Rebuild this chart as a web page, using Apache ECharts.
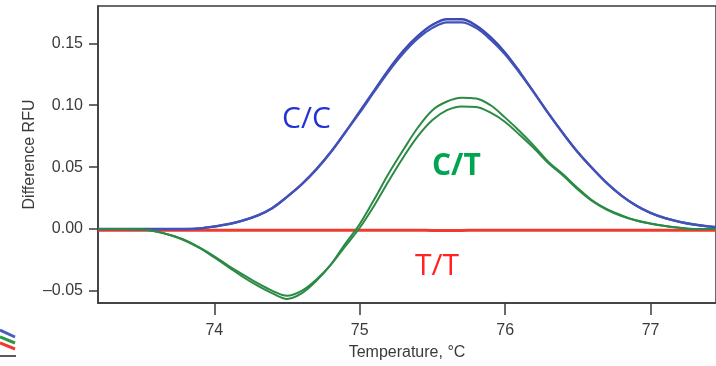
<!DOCTYPE html>
<html>
<head>
<meta charset="utf-8">
<script src="https://cdn.jsdelivr.net/npm/echarts@6/dist/echarts.min.js"></script>
<style>
  html, body { margin: 0; padding: 0; background: #fff; }
  #chart { width: 716px; height: 366px; }
</style>
</head>
<body>
<div id="chart"></div>
<script>
// temperature grid, degrees C
const temps = [
  73.2, 73.3, 73.4, 73.5, 73.6, 73.7, 73.8, 73.9,
  74.0, 74.1, 74.2, 74.3, 74.4, 74.5, 74.6, 74.7, 74.8, 74.9,
  75.0, 75.1, 75.2, 75.3, 75.4, 75.5, 75.6, 75.7, 75.8, 75.9,
  76.0, 76.1, 76.2, 76.3, 76.4, 76.5, 76.6, 76.7, 76.8, 76.9,
  77.0, 77.1, 77.2, 77.3, 77.4, 77.5
];

// C/C homozygote, two replicates
const ccA = [
  0, 0, 0, 0, 0, 0, 0, 0.0005,
  0.002, 0.004, 0.007, 0.011, 0.017, 0.026, 0.036, 0.048, 0.062, 0.078,
  0.095, 0.112, 0.129, 0.144, 0.156, 0.165, 0.1695, 0.1695, 0.1645, 0.155,
  0.1425, 0.127, 0.110, 0.093, 0.077, 0.062, 0.049, 0.037, 0.027, 0.019,
  0.013, 0.0088, 0.0058, 0.0036, 0.002, 0.001
];
const ccB = [
  0, 0, 0, 0, 0, 0, 0, 0.0005,
  0.002, 0.004, 0.007, 0.011, 0.017, 0.026, 0.036, 0.048, 0.062, 0.078,
  0.094, 0.111, 0.1275, 0.142, 0.154, 0.1625, 0.167, 0.167, 0.1625, 0.153,
  0.141, 0.126, 0.110, 0.093, 0.077, 0.062, 0.049, 0.037, 0.027, 0.019,
  0.013, 0.0088, 0.0058, 0.0036, 0.002, 0.001
];

// C/T heterozygote, two replicates
const ctA = [
  0, 0, 0, -0.0005, -0.002, -0.005, -0.0095, -0.0155,
  -0.023, -0.031, -0.039, -0.046, -0.052, -0.0565, -0.052, -0.042, -0.029, -0.012,
  0.004, 0.024, 0.045, 0.064, 0.082, 0.096, 0.103, 0.106, 0.1055, 0.100,
  0.090, 0.079, 0.067, 0.054, 0.044, 0.033, 0.023, 0.016, 0.011, 0.007,
  0.0045, 0.0025, 0.001, 0, 0, 0
];
const ctB = [
  0, 0, 0, -0.0005, -0.002, -0.005, -0.009, -0.015,
  -0.022, -0.030, -0.037, -0.044, -0.050, -0.054, -0.050, -0.041, -0.029, -0.014,
  0.001, 0.019, 0.039, 0.058, 0.075, 0.088, 0.096, 0.099, 0.0985, 0.094,
  0.0865, 0.076, 0.065, 0.053, 0.043, 0.032, 0.0225, 0.0155, 0.0105, 0.0068,
  0.0043, 0.0024, 0.001, 0, 0, 0
];

// T/T homozygote
const tt = [
  -0.001, -0.001, -0.001, -0.001, -0.001, -0.001, -0.001, -0.001,
  -0.001, -0.001, -0.001, -0.001, -0.001, -0.001, -0.001, -0.001, -0.001, -0.001,
  -0.001, -0.001, -0.001, -0.001, -0.001, -0.0012, -0.0012, -0.0012, -0.001, -0.001,
  -0.001, -0.001, -0.001, -0.001, -0.001, -0.001, -0.001, -0.001, -0.001, -0.001,
  -0.001, -0.001, -0.001, -0.001, -0.001, -0.001
];

const xTicks = [74, 75, 76, 77];
const yTicks = [-0.05, 0, 0.05, 0.10, 0.15];

const axisFont = "Liberation Sans";
const axisColor = "#3a3a3a";

function pairs(values) {
  return temps.map((t, i) => [t, values[i]]);
}

function curve(values, color, width, z) {
  return {
    type: "line",
    data: pairs(values),
    smooth: 0.35,
    showSymbol: false,
    z: z,
    lineStyle: { color: color, width: width },
  };
}

function tag(text, x, y, color, weight) {
  return {
    type: "text",
    left: x,
    top: y,
    style: {
      text: text,
      fontFamily: "Open Sans",
      fontSize: 30,
      fontWeight: weight,
      fill: color,
    },
  };
}

const chart = echarts.init(document.getElementById("chart"));
chart.setOption({
  animation: false,
  grid: {
    left: 98,
    right: -3,
    top: 6,
    bottom: 61,
    show: true,
    borderColor: axisColor,
    borderWidth: 1.5,
  },
  xAxis: {
    type: "value",
    min: 73.2,
    max: 77.45,
    name: "Temperature, \u00b0C",
    nameLocation: "middle",
    nameGap: 42,
    nameMoveOverlap: false,
    nameTextStyle: { fontFamily: axisFont, fontSize: 16, color: axisColor },
    splitLine: { show: false },
    axisLine: { onZero: false, lineStyle: { color: axisColor, width: 1.5 } },
    axisTick: { customValues: xTicks, length: 12, lineStyle: { color: axisColor, width: 1.5 } },
    axisLabel: {
      customValues: xTicks,
      margin: 20,
      fontFamily: axisFont,
      fontSize: 16,
      color: axisColor,
    },
  },
  yAxis: {
    type: "value",
    min: -0.0598,
    max: 0.1802,
    name: "Difference RFU",
    nameLocation: "middle",
    nameGap: 60,
    nameMoveOverlap: false,
    nameTextStyle: { fontFamily: axisFont, fontSize: 16, color: axisColor },
    splitLine: { show: false },
    axisLine: { lineStyle: { color: axisColor, width: 1.5 } },
    axisTick: { customValues: yTicks, length: 9, lineStyle: { color: axisColor, width: 1.5 } },
    axisLabel: {
      customValues: yTicks,
      margin: 15,
      fontFamily: axisFont,
      fontSize: 16,
      color: axisColor,
      formatter: (v) => (v < 0 ? "\u2013" + Math.abs(v).toFixed(2) : v.toFixed(2)),
    },
  },
  series: [
    curve(tt, "#f03a2e", 3, 1),
    curve(ccA, "#3a4ab2", 2.4, 2),
    curve(ccB, "#4252b8", 2.2, 2),
    curve(ctA, "#2b8a45", 2, 3),
    curve(ctB, "#2b8a45", 2, 3),
  ],
  graphic: [
    tag("C/C", 282, 104, "#2233d6", "normal"),
    tag("C/T", 432, 151, "#00a551", "bold"),
    tag("T/T", 415, 251, "#ff2323", "normal"),
    // fragment of another figure at the lower left
    { type: "line", shape: { x1: 0, y1: 330, x2: 15, y2: 337 }, style: { stroke: "#4a5bc0", lineWidth: 3 } },
    { type: "line", shape: { x1: 0, y1: 337, x2: 15, y2: 343 }, style: { stroke: "#2b9a45", lineWidth: 3 } },
    { type: "line", shape: { x1: 0, y1: 343, x2: 15, y2: 349 }, style: { stroke: "#f03a2e", lineWidth: 3 } },
    { type: "line", shape: { x1: 0, y1: 356, x2: 16, y2: 356 }, style: { stroke: "#222", lineWidth: 1.5 } },
  ],
});
</script>
</body>
</html>
